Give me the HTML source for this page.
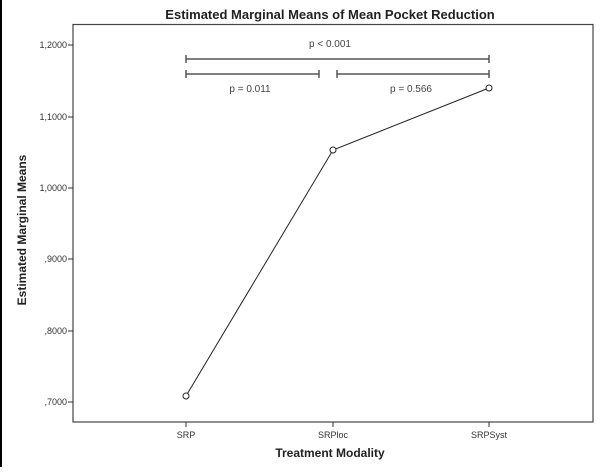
<!DOCTYPE html>
<html><head><style>body{margin:0;background:#fff}</style></head><body>
<svg width="600" height="467" xmlns="http://www.w3.org/2000/svg" font-family="Liberation Sans, sans-serif">
<rect x="0" y="0" width="600" height="467" fill="#fff"/>
<line x1="1" y1="0" x2="1" y2="467" stroke="#000" stroke-width="2"/>
<text x="330" y="19" text-anchor="middle" font-weight="bold" font-size="13" fill="#222">Estimated Marginal Means of Mean Pocket Reduction</text>
<rect x="73" y="24.5" width="520" height="397.5" fill="none" stroke="#444" stroke-width="1.2"/>
<g font-size="9" fill="#333" text-anchor="end">
<g stroke="#333"><line x1="68" y1="45" x2="73" y2="45"/><line x1="68" y1="117" x2="73" y2="117"/><line x1="68" y1="188" x2="73" y2="188"/><line x1="68" y1="259" x2="73" y2="259"/><line x1="68" y1="331" x2="73" y2="331"/><line x1="68" y1="402" x2="73" y2="402"/>
<line x1="186" y1="422" x2="186" y2="427"/><line x1="333" y1="422" x2="333" y2="427"/><line x1="489" y1="422" x2="489" y2="427"/></g>
<text x="67" y="48">1,2000</text><text x="67" y="120">1,1000</text><text x="67" y="191">1,0000</text><text x="67" y="262">,9000</text><text x="67" y="334">,8000</text><text x="67" y="405">,7000</text>
</g>
<g font-size="9" fill="#333" text-anchor="middle"><text x="186" y="438">SRP</text><text x="333" y="438">SRPloc</text><text x="489" y="438">SRPSyst</text></g>
<text x="330" y="457" text-anchor="middle" font-weight="bold" font-size="12" fill="#222">Treatment Modality</text>
<text transform="translate(26,230) rotate(-90)" text-anchor="middle" font-weight="bold" font-size="12" fill="#222">Estimated Marginal Means</text>
<polyline points="186,396 333,150 489,88" fill="none" stroke="#222" stroke-width="1"/>
<g fill="#fff" stroke="#222"><circle cx="186" cy="396" r="3"/><circle cx="333" cy="150" r="3"/><circle cx="489" cy="88" r="3"/></g>
<g stroke="#555" stroke-width="1.5">
<line x1="186" y1="59" x2="489" y2="59"/><line x1="186" y1="55" x2="186" y2="63"/><line x1="489" y1="55" x2="489" y2="63"/>
<line x1="186" y1="74" x2="319" y2="74"/><line x1="186" y1="70" x2="186" y2="78"/><line x1="319" y1="70" x2="319" y2="78"/>
<line x1="337" y1="74" x2="489" y2="74"/><line x1="337" y1="70" x2="337" y2="78"/><line x1="489" y1="70" x2="489" y2="78"/>
</g>
<g font-size="10" fill="#444" text-anchor="middle"><text x="330" y="47">p &lt; 0.001</text><text x="250" y="92">p = 0.011</text><text x="411" y="92">p = 0.566</text></g>
</svg>
</body></html>
